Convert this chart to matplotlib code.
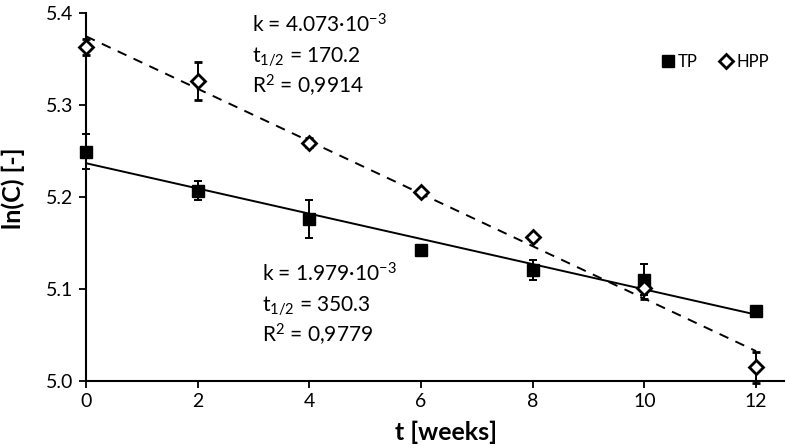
import matplotlib
matplotlib.use('Agg')
import matplotlib.pyplot as plt
import numpy as np

plt.rcParams['font.family'] = ['Lato', 'DejaVu Sans']
plt.rcParams['mathtext.fontset'] = 'custom'
plt.rcParams['mathtext.rm'] = 'Lato'
plt.rcParams['mathtext.default'] = 'regular'

weeks = [0, 2, 4, 6, 8, 10, 12]

tp_values = [5.249, 5.207, 5.176, 5.142, 5.121, 5.110, 5.076]
tp_errors = [0.019, 0.010, 0.021, 0.002, 0.011, 0.017, 0.004]

hpp_values = [5.363, 5.326, 5.259, 5.205, 5.156, 5.101, 5.015]
hpp_errors = [0.009, 0.021, 0.005, 0.004, 0.004, 0.012, 0.017]

tp_label = ['k = 1.979·10$^{-3}$', 't$_{1/2}$ = 350.3', 'R$^{2}$ = 0,9779']
hpp_label = ['k = 4.073·10$^{-3}$', 't$_{1/2}$ = 170.2', 'R$^{2}$ = 0,9914']

fig = plt.figure(figsize=(7.86, 4.48), dpi=100)
ax = fig.add_axes([0.1094, 0.1496, 0.888, 0.8214])

x = np.array(weeks)
xfit = np.array([weeks[0], weeks[-1]])

# trend lines (least squares, as in the original)
p_tp = np.polyfit(x, tp_values, 1)
p_hpp = np.polyfit(x, hpp_values, 1)
ax.plot(xfit, np.polyval(p_tp, xfit), color='black', lw=1.4, zorder=2)
ax.plot(xfit, np.polyval(p_hpp, xfit), color='black', lw=1.4, ls=(0, (5, 4)), zorder=2)

tp_eb = ax.errorbar(weeks, tp_values, yerr=tp_errors, fmt='s', color='black',
                    ms=8, capsize=3, elinewidth=1.4, capthick=1.4, label='TP', zorder=3)
hpp_eb = ax.errorbar(weeks, hpp_values, yerr=hpp_errors, fmt='D', color='black',
                     mfc='white', mec='black', mew=2, ms=7, capsize=3,
                     elinewidth=1.4, capthick=1.4, label='HPP', zorder=3)
for eb in (tp_eb, hpp_eb):
    for artist in eb.get_children():
        artist.set_clip_on(False)

ax.set_xlim(0, 12.5)
ax.set_ylim(5.0, 5.4)
ax.set_xticks(range(0, 13, 2))
ax.set_yticks([5.0, 5.1, 5.2, 5.3, 5.4])
ax.set_yticklabels(['5.0', '5.1', '5.2', '5.3', '5.4'])
ax.spines['top'].set_visible(False)
ax.spines['right'].set_visible(False)
for s in ('left', 'bottom'):
    ax.spines[s].set_linewidth(1.5)
ax.tick_params(direction='out', length=5, width=1.3, labelsize=14, pad=4)

ax.set_xlabel('t [weeks]', fontsize=18, fontweight='bold')
ax.set_ylabel('ln(C) [-]', fontsize=18, fontweight='bold')
ax.xaxis.set_label_coords(0.516, -0.108)
ax.yaxis.set_label_coords(-0.088, 0.524)

for i, line in enumerate(hpp_label):
    ax.text(2.97, 5.3793 - i * 0.0335, line, fontsize=15, va='baseline', ha='left')
for i, line in enumerate(tp_label):
    ax.text(3.15, 5.1079 - i * 0.033, line, fontsize=15, va='baseline', ha='left')

handles, labels = ax.get_legend_handles_labels()
handles = [h[0] for h in handles]
ax.legend(handles, labels, ncol=2, frameon=False, loc='upper right',
          bbox_to_anchor=(1.0, 0.93), fontsize=12, handletextpad=0.1,
          columnspacing=1.2, handlelength=1.0)

fig.savefig('out.png', dpi=100)
